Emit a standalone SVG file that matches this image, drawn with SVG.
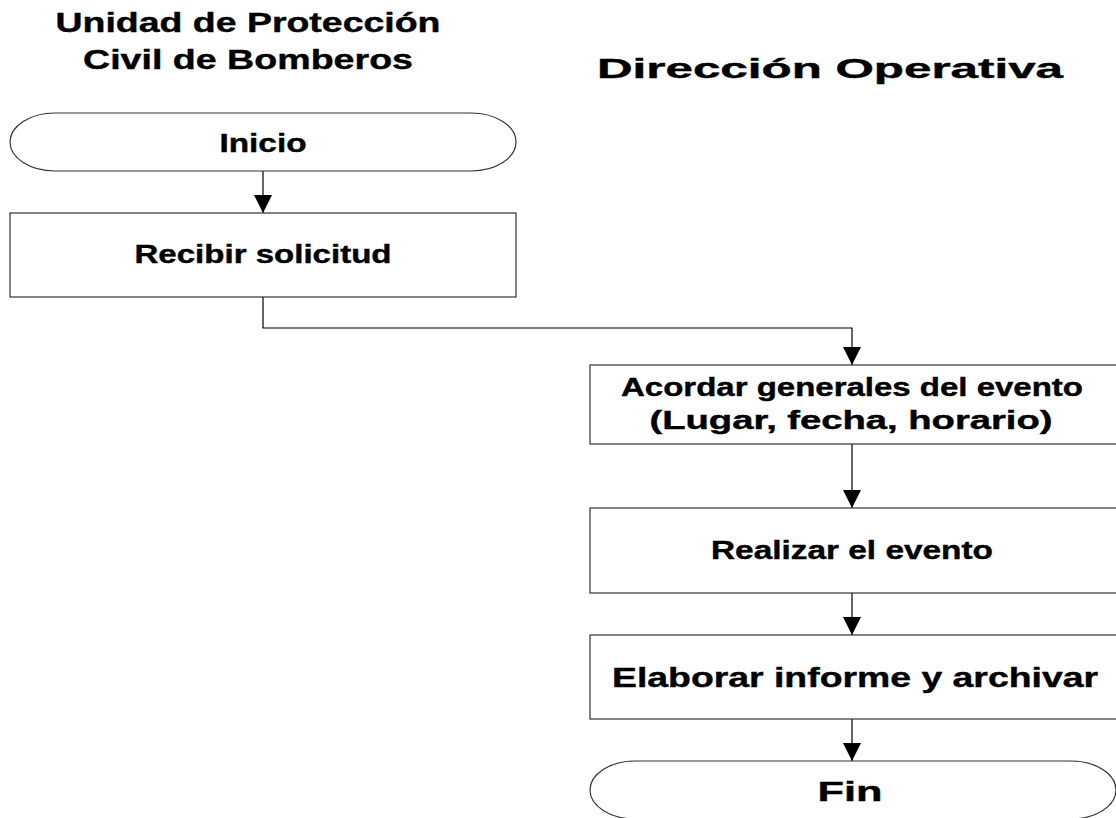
<svg xmlns="http://www.w3.org/2000/svg" width="1116" height="818" viewBox="0 0 1116 818">
<style>
.t{font-family:"Liberation Sans",Arial,sans-serif;font-weight:bold;fill:#000;stroke:#000;stroke-width:0.4;text-anchor:middle}
.h{font-size:27px}
.b{font-size:25px}
.l{font-size:27px}
.shape{fill:#fff;stroke:#333;stroke-width:1.2}
.c{fill:none;stroke:#000;stroke-width:1.2}
</style>
<defs>
<marker id="ah" markerUnits="userSpaceOnUse" markerWidth="18" markerHeight="20" refX="18" refY="10" orient="auto">
<path d="M0,1 L18,10 L0,19 z" fill="#000"/>
</marker>
</defs>
<rect width="1116" height="818" fill="#fff"/>
<g id="titles">
<text class="t h" x="248" y="32" textLength="385" lengthAdjust="spacingAndGlyphs">Unidad de Protección</text>
<text class="t h" x="248" y="69" textLength="330" lengthAdjust="spacingAndGlyphs">Civil de Bomberos</text>
<text class="t h" x="830" y="78" textLength="466" lengthAdjust="spacingAndGlyphs">Dirección Operativa</text>
</g>
<g id="connectors">
<path class="c" d="M263,171 V213" marker-end="url(#ah)"/>
<path class="c" d="M263,297 V328 H852 V365" marker-end="url(#ah)"/>
<path class="c" d="M852,444 V508" marker-end="url(#ah)"/>
<path class="c" d="M852,593 V635" marker-end="url(#ah)"/>
<path class="c" d="M852,719 V761" marker-end="url(#ah)"/>
</g>
<g id="inicio">
<path class="shape" d="M55,113 H471 A45,29 0 0 1 471,171 H55 A45,29 0 0 1 55,113 z"/>
<text class="t b" x="263" y="152" textLength="87" lengthAdjust="spacingAndGlyphs">Inicio</text>
</g>
<g id="recibir">
<rect class="shape" x="10" y="213" width="506" height="84"/>
<text class="t b" x="263" y="263" textLength="257" lengthAdjust="spacingAndGlyphs">Recibir solicitud</text>
</g>
<g id="acordar">
<rect class="shape" x="590" y="365" width="530" height="79"/>
<text class="t b" x="852" y="396" textLength="462" lengthAdjust="spacingAndGlyphs">Acordar generales del evento</text>
<text class="t b" x="851" y="429" textLength="403" lengthAdjust="spacingAndGlyphs">(Lugar, fecha, horario)</text>
</g>
<g id="realizar">
<rect class="shape" x="590" y="508" width="530" height="85"/>
<text class="t b" x="852" y="559" textLength="282" lengthAdjust="spacingAndGlyphs">Realizar el evento</text>
</g>
<g id="elaborar">
<rect class="shape" x="590" y="635" width="530" height="84"/>
<text class="t l" x="855" y="687" textLength="486" lengthAdjust="spacingAndGlyphs">Elaborar informe y archivar</text>
</g>
<g id="fin">
<path class="shape" d="M635,761 H1071 A45,29 0 0 1 1071,819 H635 A45,29 0 0 1 635,761 z"/>
<text class="t l" x="850" y="801" textLength="65" lengthAdjust="spacingAndGlyphs">Fin</text>
</g>
</svg>
